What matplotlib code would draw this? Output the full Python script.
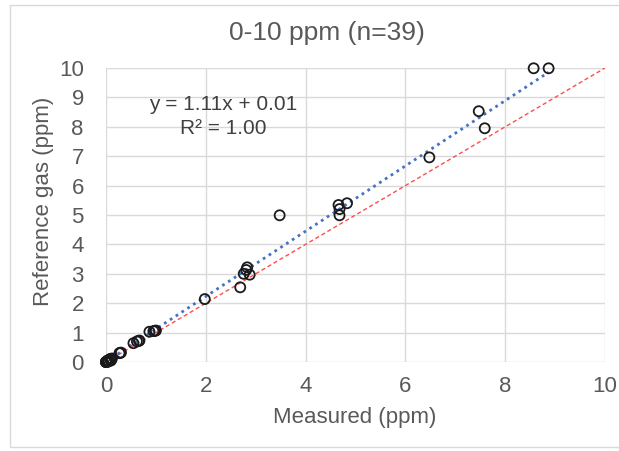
import matplotlib
matplotlib.use("Agg")
import matplotlib.pyplot as plt
from matplotlib.patches import Rectangle

plt.rcParams['font.family'] = ['Liberation Sans', 'DejaVu Sans']

measured = [0.0, 0.02, 0.05, 0.08, 0.10, 0.12, 0.03, 0.0, 0.0, 0.0, 0.05, 0.10,
            0.27, 0.30, 0.28, 0.55, 0.62, 0.67, 0.66, 0.87, 0.95, 1.00, 0.98,
            1.98, 2.69, 2.76, 2.81, 2.83, 2.88, 3.48, 4.66, 4.68, 4.68, 4.83,
            6.48, 7.47, 7.59, 8.57, 8.87]
reference = [0.0, 0.0, 0.02, 0.10, 0.05, 0.12, 0.05, 0.0, 0.0, 0.0, 0.05, 0.10,
             0.30, 0.32, 0.31, 0.64, 0.70, 0.73, 0.72, 1.03, 1.05, 1.07, 1.06,
             2.14, 2.54, 3.00, 3.13, 3.22, 2.97, 4.99, 5.34, 5.20, 4.99, 5.40,
             6.96, 8.53, 7.95, 9.99, 9.99]
slope = 1.11
intercept = 0.01
r2_text = "1.00"
title = "0-10 ppm (n=39)"
x_ticks = [0, 2, 4, 6, 8, 10]
y_ticks = list(range(0, 11))

W, H = 619, 451
fig = plt.figure(figsize=(W / 100, H / 100), dpi=100)
fig.patch.set_facecolor("white")
# outer chart border
fig.patches.append(Rectangle((10 / W, 1 - 447 / H), 1.0, (447 - 5) / H,
                             transform=fig.transFigure, fill=False,
                             edgecolor="#d9d9d9", linewidth=1.0))

ax = fig.add_axes([106 / W, 1 - 362 / H, (605 - 106) / W, (362 - 68) / H])
ax.set_xlim(0, 10)
ax.set_ylim(0, 10)
ax.set_xticks(x_ticks)
ax.set_yticks(y_ticks)
ax.grid(True, color="#d9d9d9", linewidth=1.0)
ax.set_axisbelow(True)
for s in ax.spines.values():
    s.set_visible(False)
ax.tick_params(axis="x", length=0, labelsize=16, colors="#595959", pad=10)
ax.tick_params(axis="y", length=0, labelsize=16, colors="#595959", pad=16)

# 1:1 line
ax.plot([0, 10], [0, 10], linestyle=(0, (3, 2)), color="#ff4d4d", linewidth=1.0, zorder=2)
# trend line
xmax = max(measured)
ax.plot([0, xmax], [intercept, slope * xmax + intercept], linestyle=(0, (1, 1.5)),
        color="#4472c4", linewidth=2.0, zorder=3)

ax.scatter(measured, reference, s=52, facecolors="none", edgecolors="#1a1a1a",
           linewidths=1.3, zorder=4, clip_on=False)

fig.text(355 / W, 1 - 418 / H, "Measured (ppm)", ha="center", va="center",
         fontsize=16, color="#595959")
fig.text(44 / W, 1 - 201 / H, "Reference gas (ppm)", ha="center", va="center",
         rotation=90, fontsize=16, color="#595959")

fig.text(327 / W, 1 - 33 / H, title, ha="center", va="center", fontsize=19, color="#595959")
fig.text(223 / W, 1 - 104 / H, f"y = {slope:.2f}x + {intercept:.2f}", ha="center", va="center",
         fontsize=15, color="#404040")
fig.text(223 / W, 1 - 129 / H, f"R² = {r2_text}", ha="center", va="center",
         fontsize=15, color="#404040")

fig.savefig("out.png", dpi=100)
